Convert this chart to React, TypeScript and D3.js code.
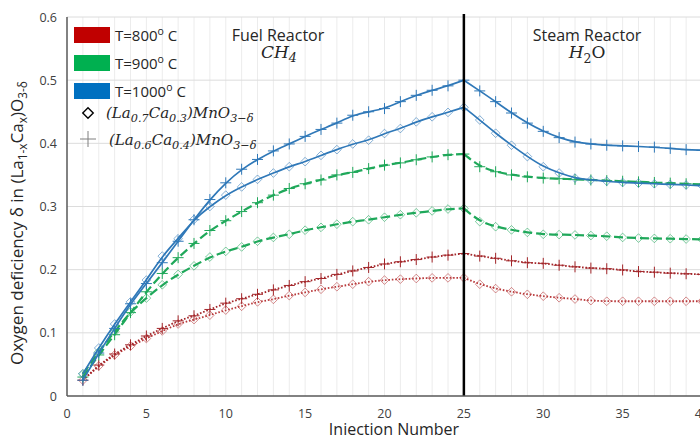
import * as d3 from 'd3';

// injection number (x) and oxygen deficiency values (y)
const injections = [1, 2, 3, 4, 5, 6, 7, 8, 9, 10, 11, 12, 13, 14, 15, 16, 17, 18, 19, 20,
    21, 22, 23, 24, 25, 26, 27, 28, 29, 30, 31, 32, 33, 34, 35, 36, 37, 38, 39, 40];

const lcm37_800 = [0.025, 0.0475, 0.065, 0.079, 0.091, 0.103, 0.114, 0.121, 0.128, 0.136,
    0.142, 0.149, 0.153, 0.159, 0.164, 0.169, 0.173, 0.177, 0.181, 0.1835,
    0.185, 0.186, 0.187, 0.187, 0.187, 0.177, 0.170, 0.165, 0.161, 0.158,
    0.1555, 0.1535, 0.151, 0.150, 0.150, 0.150, 0.150, 0.150, 0.150, 0.150];
const lcm46_800 = [0.025, 0.049, 0.0665, 0.081, 0.095, 0.107, 0.119, 0.127, 0.137, 0.147,
    0.154, 0.161, 0.168, 0.175, 0.181, 0.186, 0.1925, 0.198, 0.2035, 0.209,
    0.2125, 0.216, 0.220, 0.223, 0.2255, 0.2215, 0.218, 0.214, 0.211, 0.210,
    0.207, 0.2045, 0.2025, 0.2015, 0.1995, 0.197, 0.196, 0.1945, 0.1935, 0.1925];
const lcm37_900 = [0.035, 0.07, 0.102, 0.133, 0.155, 0.176, 0.1925, 0.206, 0.22, 0.229,
    0.236, 0.245, 0.251, 0.256, 0.2625, 0.267, 0.272, 0.276, 0.279, 0.283,
    0.287, 0.290, 0.293, 0.296, 0.297, 0.276, 0.268, 0.263, 0.259, 0.256,
    0.2555, 0.255, 0.254, 0.253, 0.251, 0.250, 0.2495, 0.249, 0.2485, 0.248];
const lcm46_900 = [0.03, 0.065, 0.097, 0.132, 0.165, 0.194, 0.219, 0.2415, 0.262, 0.2775,
    0.292, 0.306, 0.318, 0.3285, 0.336, 0.342, 0.350, 0.354, 0.360, 0.3655,
    0.369, 0.374, 0.3785, 0.382, 0.383, 0.363, 0.355, 0.350, 0.347, 0.345,
    0.344, 0.343, 0.342, 0.341, 0.340, 0.339, 0.338, 0.337, 0.336, 0.335];
const lcm37_1000 = [0.035, 0.076, 0.114, 0.149, 0.1835, 0.2215, 0.249, 0.2795, 0.300, 0.318,
    0.331, 0.343, 0.353, 0.363, 0.371, 0.381, 0.390, 0.399, 0.405, 0.4155,
    0.4235, 0.434, 0.442, 0.449, 0.457, 0.437, 0.416, 0.397, 0.379, 0.363,
    0.353, 0.345, 0.342, 0.340, 0.338, 0.337, 0.336, 0.335, 0.334, 0.333];
const lcm46_1000 = [0.025, 0.068, 0.107, 0.146, 0.178, 0.211, 0.245, 0.279, 0.311, 0.3375,
    0.359, 0.3745, 0.388, 0.399, 0.411, 0.422, 0.432, 0.4445, 0.450, 0.455,
    0.466, 0.476, 0.484, 0.491, 0.500, 0.483, 0.466, 0.448, 0.432, 0.419,
    0.409, 0.402, 0.399, 0.397, 0.396, 0.395, 0.394, 0.392, 0.390, 0.389];

const xTicks = [0, 5, 10, 15, 20, 25, 30, 35, 40];
const yTicks = [0, 0.1, 0.2, 0.3, 0.4, 0.5, 0.6];
const switchAt = 25;

const series = [
    {values: lcm37_800, color: '#b8393b', marker: 'diamond', dash: '1.6 1.8', width: 1.8},
    {values: lcm46_800, color: '#a3262a', marker: 'plus', dash: '1.6 1.8', width: 1.8},
    {values: lcm37_900, color: '#1fa85a', marker: 'diamond', dash: '9 4', width: 2.2},
    {values: lcm46_900, color: '#1fa85a', marker: 'plus', dash: '9 4', width: 2.2},
    {values: lcm37_1000, color: '#2f78b8', marker: 'diamond', dash: null, width: 1.7},
    {values: lcm46_1000, color: '#2f78b8', marker: 'plus', dash: null, width: 1.7},
];

const legendTemps = [
    {label: 'T=800', color: '#c00000'},
    {label: 'T=900', color: '#00b050'},
    {label: 'T=1000', color: '#0070c0'},
];

const W = 700;
const H = 435;
const sans = "'Open Sans', 'Noto Sans', sans-serif";
const math = "'DejaVu Serif', 'Liberation Serif', serif";

type Seg = {t: string; sub?: boolean; sup?: boolean};

function Rich({segs, size, scale = 0.7}: {segs: Seg[]; size: number; scale?: number}) {
    // subscripts / superscripts with dy, resetting after each one
    const out: any[] = [];
    segs.forEach((s, i) => {
        const small = size * scale;
        if (s.sub) {
            out.push(<tspan key={i} dy={size * 0.26} fontSize={small}>{s.t}</tspan>);
            out.push(<tspan key={i + 'r'} dy={-size * 0.26}>{'\u200b'}</tspan>);
        } else if (s.sup) {
            out.push(<tspan key={i} dy={-size * 0.38} fontSize={small}>{s.t}</tspan>);
            out.push(<tspan key={i + 'r'} dy={size * 0.38}>{'\u200b'}</tspan>);
        } else {
            out.push(<tspan key={i}>{s.t}</tspan>);
        }
    });
    return <>{out}</>;
}

export default function App() {
    const x = d3.scaleLinear().domain([0, 40]).range([67, 702]);
    const y = d3.scaleLinear().domain([0, 0.6]).range([396, 17]);

    const line = d3
        .line<[number, number]>()
        .x((d) => x(d[0]))
        .y((d) => y(d[1]))
        .curve(d3.curveBasis);

    const diamond = d3.symbol().type(d3.symbolDiamond2).size(48)();

    return (
        <div style={{position: 'absolute', left: 0, top: 0}}>
            <svg width={W} height={H} style={{display: 'block', background: '#fff'}}>
                {/* grid */}
                {injections.map((d) => (
                    <line key={'v' + d} x1={x(d)} x2={x(d)} y1={y(0.6)} y2={y(0)} stroke="#ececec" strokeWidth={1} />
                ))}
                {yTicks.slice(1).map((d) => (
                    <line key={'h' + d} x1={x(0)} x2={W} y1={y(d)} y2={y(d)} stroke="#dcdcdc" strokeWidth={1} />
                ))}

                {/* series */}
                {series.map((s, i) => {
                    const pts: [number, number][] = injections.map((n, j) => [n, s.values[j]]);
                    const fuel = pts.filter((p) => p[0] <= switchAt);
                    const steam = pts.filter((p) => p[0] >= switchAt);
                    return (
                        <g key={i}>
                            {[fuel, steam].map((part, k) => (
                                <path key={k} d={line(part) || ''} fill="none" stroke={s.color}
                                    strokeWidth={s.width} strokeDasharray={s.dash || undefined} />
                            ))}
                            {pts.map((p, j) =>
                                s.marker === 'diamond' ? (
                                    <path key={j} d={diamond || ''} transform={`translate(${x(p[0])},${y(p[1])})`}
                                        fill="none" stroke={s.color} strokeOpacity={0.65} strokeWidth={0.9} />
                                ) : (
                                    <g key={j} transform={`translate(${x(p[0])},${y(p[1])})`} stroke={s.color} strokeWidth={1}>
                                        <line x1={-5.5} x2={5.5} y1={0} y2={0} />
                                        <line x1={0} x2={0} y1={-5.5} y2={5.5} />
                                    </g>
                                )
                            )}
                        </g>
                    );
                })}

                {/* reactor switch */}
                <line x1={x(switchAt)} x2={x(switchAt)} y1={14} y2={y(0)} stroke="#000" strokeWidth={2.5} />

                {/* axes */}
                <line x1={x(0)} x2={x(0)} y1={y(0.6)} y2={y(0)} stroke="#595959" strokeWidth={1.5} />
                <line x1={x(0)} x2={W} y1={y(0)} y2={y(0)} stroke="#595959" strokeWidth={1.5} />
                {yTicks.map((d) => (
                    <text key={'yt' + d} x={57} y={y(d) + 4.5} textAnchor="end" fontFamily={sans} fontSize={12.5} fill="#404040">
                        {d === 0 ? '0' : d3.format('.1f')(d)}
                    </text>
                ))}
                {xTicks.map((d) => (
                    <text key={'xt' + d} x={x(d)} y={418} textAnchor="middle" fontFamily={sans} fontSize={12.5} fill="#404040">
                        {d}
                    </text>
                ))}

                {/* axis titles */}
                <text x={394} y={435} textAnchor="middle" fontFamily={sans} fontSize={16} fill="#262626">
                    Injection Number
                </text>
                <text transform="translate(23,223) rotate(-90)" textAnchor="middle" fontFamily={sans} fontSize={17} fill="#262626">
                    <Rich size={17} segs={[{t: 'Oxygen deficiency δ in (La'}, {t: '1-x', sub: true}, {t: 'Ca'}, {t: 'x', sub: true}, {t: ')O'}, {t: '3-δ', sub: true}]} />
                </text>

                {/* reactor labels */}
                <text x={278} y={41} textAnchor="middle" fontFamily={sans} fontSize={16} fill="#262626">Fuel Reactor</text>
                <text x={279} y={58} textAnchor="middle" fontFamily={math} fontStyle="italic" fontSize={17} fill="#262626">
                    <Rich size={17} scale={0.75} segs={[{t: 'CH'}, {t: '4', sub: true}]} />
                </text>
                <text x={587} y={41} textAnchor="middle" fontFamily={sans} fontSize={16} fill="#262626">Steam Reactor</text>
                <text x={587} y={58} textAnchor="middle" fontFamily={math} fontSize={17} fill="#262626">
                    <tspan fontStyle="italic">H</tspan>
                    <tspan dy={4.5} fontSize={12.5}>2</tspan>
                    <tspan dy={-4.5}>O</tspan>
                </text>

                {/* legend */}
                {legendTemps.map((l, i) => (
                    <g key={l.label} transform={`translate(74,${27 + i * 28})`}>
                        <rect width={36} height={16} fill={l.color} />
                        <text x={41} y={13.5} fontFamily={sans} fontSize={15} fill="#262626">
                            <Rich size={15} segs={[{t: l.label}, {t: 'o', sup: true}, {t: ' C'}]} />
                        </text>
                    </g>
                ))}
                <path d={d3.symbol().type(d3.symbolDiamond2).size(70)() || ''} transform="translate(88,113)"
                    fill="none" stroke="#000" strokeWidth={1.4} />
                <text x={106} y={118} fontFamily={math} fontStyle="italic" fontSize={15} fill="#262626">
                    <Rich size={15} scale={0.75} segs={[{t: '(La'}, {t: '0.7', sub: true}, {t: 'Ca'}, {t: '0.3', sub: true}, {t: ')MnO'}, {t: '3−δ', sub: true}]} />
                </text>
                <g transform="translate(88,139)" stroke="#7f7f7f" strokeWidth={1}>
                    <line x1={-8} x2={8} y1={0} y2={0} />
                    <line x1={0} x2={0} y1={-8} y2={8} />
                </g>
                <text x={109} y={145} fontFamily={math} fontStyle="italic" fontSize={15} fill="#262626">
                    <Rich size={15} scale={0.75} segs={[{t: '(La'}, {t: '0.6', sub: true}, {t: 'Ca'}, {t: '0.4', sub: true}, {t: ')MnO'}, {t: '3−δ', sub: true}]} />
                </text>
            </svg>
        </div>
    );
}
